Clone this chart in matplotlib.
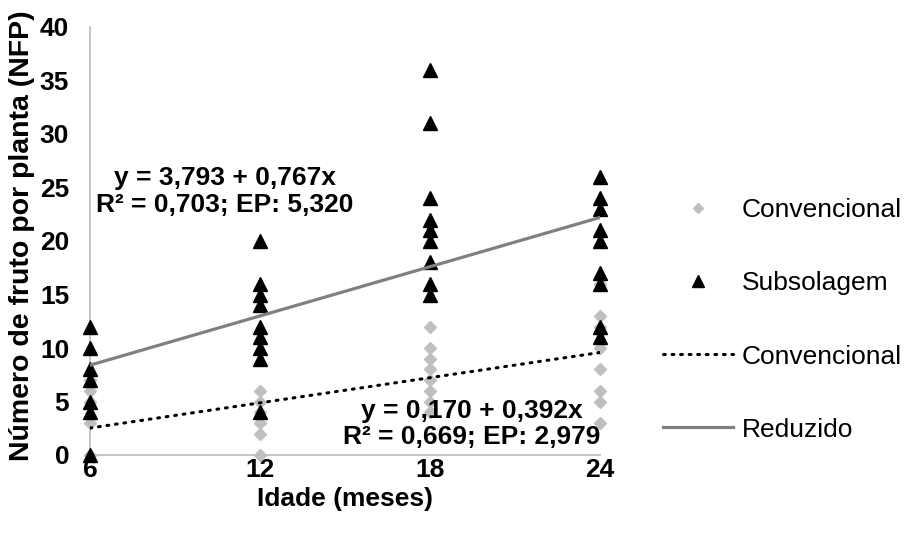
import matplotlib.pyplot as plt
import numpy as np

plt.rcParams['font.family'] = ['Liberation Sans', 'DejaVu Sans']

# Idade (meses)
idades = [6, 12, 18, 24]

# NFP por idade - convencional (losangos)
conv_6 = [7, 6, 5, 3, 0]
conv_12 = [6, 5, 4, 3, 2, 0]
conv_18 = [12, 10, 9, 8, 7, 6, 5, 4]
conv_24 = [16, 13, 12, 10, 8, 6, 5, 3]

# NFP por idade - subsolagem (triangulos)
sub_6 = [12, 10, 8, 7, 5, 4, 0]
sub_12 = [20, 16, 15, 14, 12, 11, 10, 9, 4]
sub_18 = [36, 31, 24, 22, 21, 20, 18, 16, 15]
sub_24 = [26, 24, 23, 21, 20, 17, 16, 12, 11]

# coeficientes das retas ajustadas (intercepto, inclinacao)
coef_conv = (0.170, 0.392)
coef_red = (3.793, 0.767)

eq_red = 'y = 3,793 + 0,767x\nR² = 0,703; EP: 5,320'
eq_conv = 'y = 0,170 + 0,392x\nR² = 0,669; EP: 2,979'

conv = [conv_6, conv_12, conv_18, conv_24]
sub = [sub_6, sub_12, sub_18, sub_24]

fs = 19

fig = plt.figure(figsize=(9.06, 5.38), dpi=100)
ax = fig.add_axes([90 / 906, 1 - 455 / 538, 510 / 906, 428 / 538])

gray_pts = '#BFBFBF'
xc = [i for i, v in zip(idades, conv) for _ in v]
yc = [y for v in conv for y in v]
xs = [i for i, v in zip(idades, sub) for _ in v]
ys = [y for v in sub for y in v]

h1, = ax.plot(xc, yc, 'D', color=gray_pts, ms=6, ls='none', clip_on=False, zorder=3)
h2, = ax.plot(xs, ys, '^', color='black', ms=10, ls='none', clip_on=False, zorder=4)

xx = np.array([6, 24])
h3, = ax.plot(xx, coef_conv[0] + coef_conv[1] * xx, color='black', lw=2.2,
              ls=(0, (0.6, 2.2)), dash_capstyle='round', zorder=5)
h4, = ax.plot(xx, coef_red[0] + coef_red[1] * xx, color='#808080', lw=2.3, zorder=5)

ax.set_xlim(6, 24)
ax.set_ylim(0, 40)
ax.set_xticks(idades)
ax.set_yticks(range(0, 41, 5))
for s in ['top', 'right']:
    ax.spines[s].set_visible(False)
for s in ['left', 'bottom']:
    ax.spines[s].set_color('#BFBFBF')
    ax.spines[s].set_linewidth(1.3)
ax.tick_params(length=0, labelsize=fs)
ax.tick_params(axis='y', pad=15)
ax.tick_params(axis='x', pad=2)
for lab in ax.get_xticklabels() + ax.get_yticklabels():
    lab.set_fontweight('bold')

ax.set_xlabel('Idade (meses)', fontsize=fs, fontweight='bold', labelpad=4)
fig.text(22 / 906, 1 - 236 / 538, 'Número de fruto por planta (NFP)', rotation=90,
         ha='center', va='center', fontsize=20.5, fontweight='bold')

ax.text(10.76, 24.6, eq_red, ha='center', va='center', fontsize=fs,
        fontweight='bold', linespacing=1.15)
ax.text(19.48, 2.9, eq_conv, ha='center', va='center', fontsize=fs,
        fontweight='bold', linespacing=1.15)

fig.legend([h1, h2, h3, h4], ['Convencional', 'Subsolagem', 'Convencional', 'Reduzido'],
           loc='center left', bbox_to_anchor=(663 / 906, 1 - 320 / 538),
           frameon=False, fontsize=fs, handlelength=2.65, handletextpad=0.34,
           labelspacing=1.86, markerscale=0.8, borderpad=0, borderaxespad=0)

fig.savefig('out.png', dpi=100)
